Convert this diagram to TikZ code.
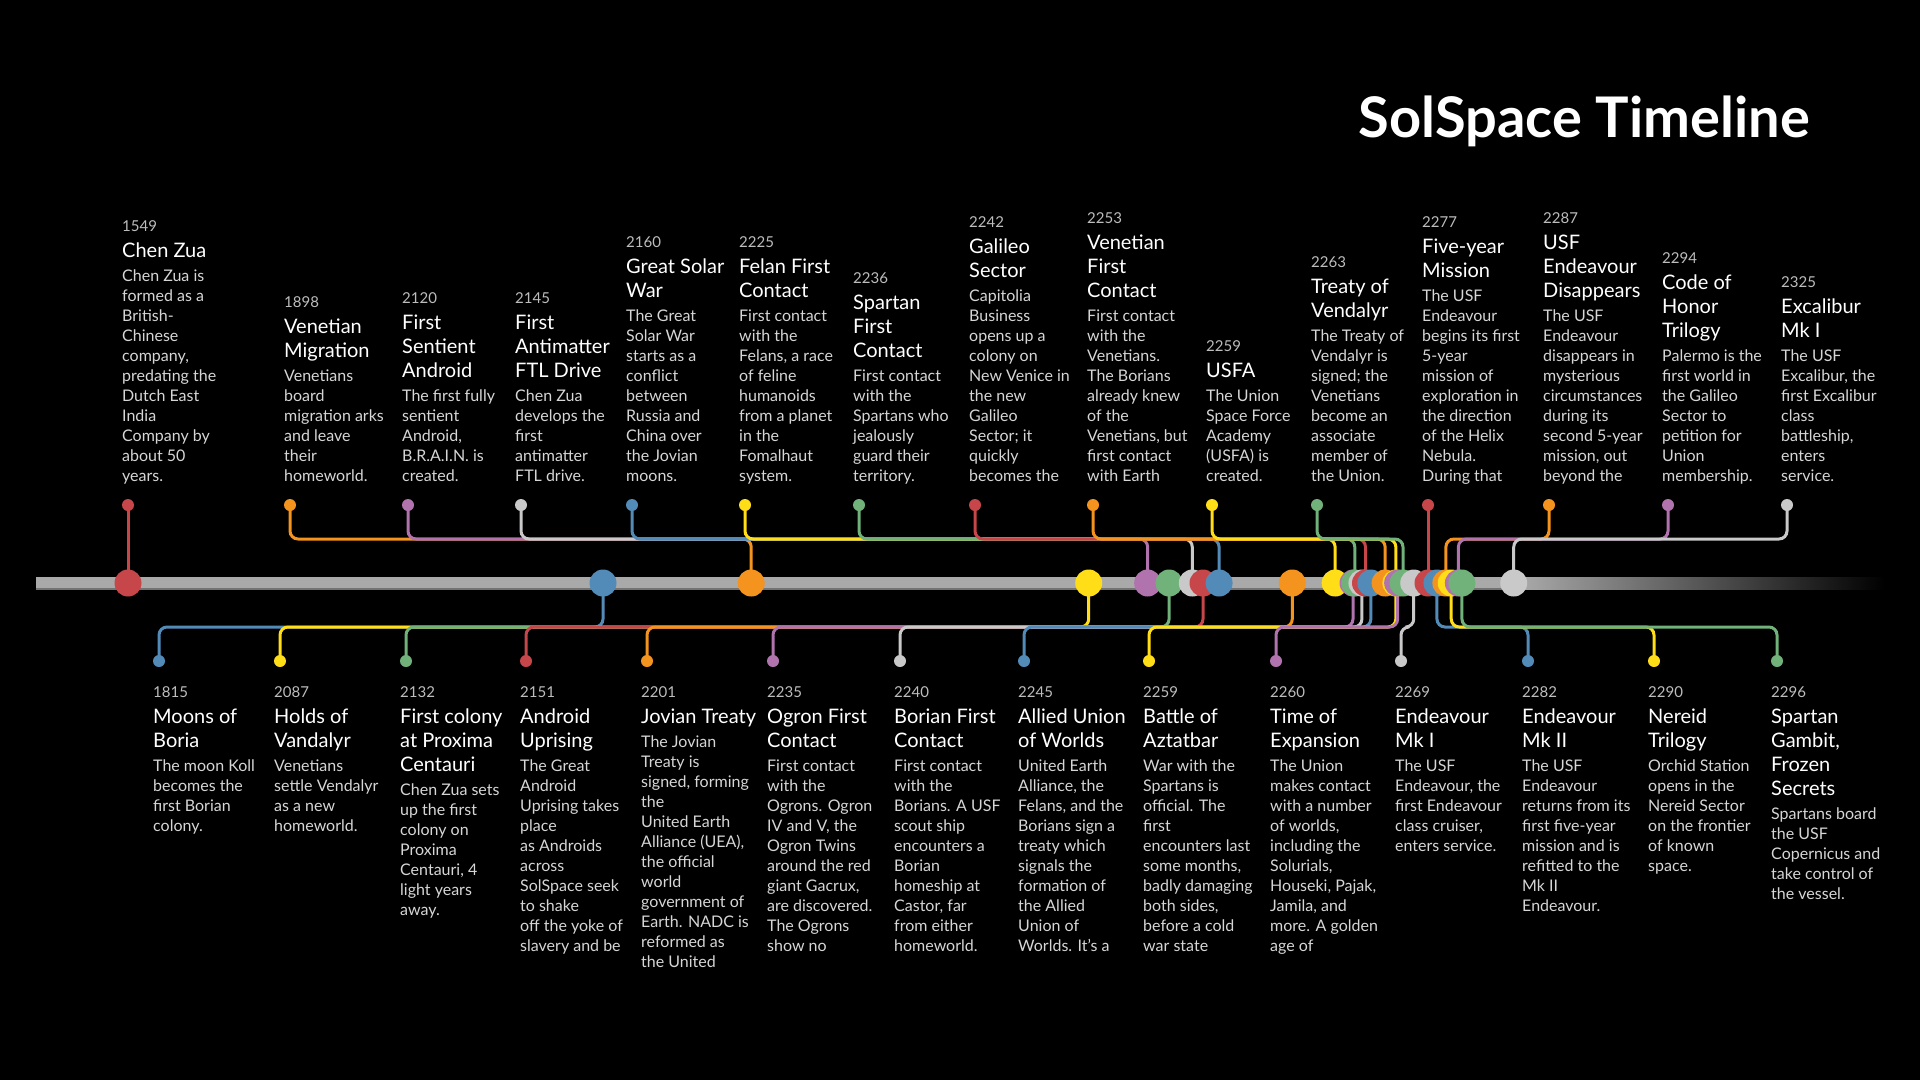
\documentclass[tikz,border=0pt]{standalone}
\usepackage{fontspec}
\setmainfont{Lato}
\pgfdeclarelayer{back}
\pgfdeclarelayer{lines}
\pgfsetlayers{back,lines,main}
\definecolor{cR}{HTML}{C6464A}
\definecolor{cO}{HTML}{F4941F}
\definecolor{cP}{HTML}{B173AE}
\definecolor{cW}{HTML}{C9C9C9}
\definecolor{cB}{HTML}{538BB8}
\definecolor{cY}{HTML}{FFDD17}
\definecolor{cN}{HTML}{70B27A}
\definecolor{axisc}{HTML}{A9A9A9}
\definecolor{yearc}{HTML}{BDBDBD}
\definecolor{bodyc}{HTML}{D6D6D6}
\tikzset{
  bigdot/.style={circle, inner sep=0pt, minimum size=27pt},
  smalldot/.style={circle, inner sep=0pt, minimum size=12pt},
  conn/.style={line width=3pt, rounded corners=8pt},
  evtxt/.style={anchor=base west, inner sep=0pt, text=white},
}
\newcommand\evtext[3]{%
  {\fontsize{15}{18}\selectfont\leavevmode{\color{yearc}#1}\par}%
  \vspace{2pt}%
  {\fontsize{20}{24}\selectfont\color{white}#2\par}%
  \vspace{4pt}%
  {\fontsize{16}{20}\selectfont\color{bodyc}#3\par}}
\newcommand\yeardot[2]{\node[bigdot, fill=#2] (b#1) at ({128+(#1-1549)*1.785714},583) {};}
\newcommand\topev[5]{%
  \node[smalldot, fill=#3] (t#1) at (#2,505) {};
  \node[evtxt] (tt#1) at (#2-6,481) {\parbox[b]{160pt}{\raggedright\evtext{#1}{#4}{#5}}};
  \begin{pgfonlayer}{lines}\draw[conn, draw=#3] (t#1.center) -- (t#1 |- tl) -| (b#1.center);\end{pgfonlayer}}
\newcommand\topevstraight[5]{%
  \node[smalldot, fill=#3] (t#1) at (b#1 |- 0,505) {};
  \node[evtxt] (tt#1) at (#2-6,481) {\parbox[b]{160pt}{\raggedright\evtext{#1}{#4}{#5}}};
  \begin{pgfonlayer}{lines}\draw[line width=3pt, draw=#3] (t#1.center) -- (b#1.center);\end{pgfonlayer}}
\newcommand\botev[5]{%
  \node[smalldot, fill=#3] (d#1) at (#2,661) {};
  \node[evtxt] (dd#1) at (#2-6,697) {\parbox[t]{160pt}{\raggedright\evtext{#1}{#4}{#5}}};
  \begin{pgfonlayer}{lines}\draw[conn, draw=#3] (d#1.center) -- (d#1 |- bl) -| (b#1.center);\end{pgfonlayer}}
\begin{document}
\begin{tikzpicture}[x=1pt, y=-1pt]
\begin{pgfonlayer}{back}
  \fill[black] (0,0) rectangle (1920,1080);
  \fill[axisc] (36,577) rectangle (1522,589);
  \fill[black!55] (36,588) rectangle (1522,589.5);
  \shade[left color=axisc, right color=black] (1520,577) rectangle (1885,589.5);
\end{pgfonlayer}
\useasboundingbox (0,0) rectangle (1920,1080);
\coordinate (tl) at (0,539);
\coordinate (bl) at (0,627);
\node[anchor=base east, inner sep=0pt, text=white] (title) at (1810,137) {\fontsize{56}{60}\selectfont\bfseries SolSpace Timeline};
% year dots on the axis
\yeardot{1549}{cR}
\yeardot{1815}{cB}
\yeardot{1898}{cO}
\yeardot{2087}{cY}
\yeardot{2120}{cP}
\yeardot{2132}{cN}
\yeardot{2145}{cW}
\yeardot{2151}{cR}
\yeardot{2160}{cB}
\yeardot{2201}{cO}
\yeardot{2225}{cY}
\yeardot{2235}{cP}
\yeardot{2236}{cN}
\yeardot{2240}{cW}
\yeardot{2242}{cR}
\yeardot{2245}{cB}
\yeardot{2253}{cO}
\yeardot{2259}{cY}
\yeardot{2260}{cP}
\yeardot{2263}{cN}
\yeardot{2269}{cW}
\yeardot{2277}{cR}
\yeardot{2282}{cB}
\yeardot{2287}{cO}
\yeardot{2290}{cY}
\yeardot{2294}{cP}
\yeardot{2296}{cN}
\yeardot{2325}{cW}
% events above
\topevstraight{1549}{128}{cR}{Chen Zua}{Chen Zua is\\formed as a\\British-\\Chinese\\company,\\predating the\\Dutch East\\India\\Company by\\about 50\\years.}
\topev{1898}{290}{cO}{Venetian\\Migration}{Venetians\\board\\migration arks\\and leave\\their\\homeworld.}
\topev{2120}{408}{cP}{First\\Sentient\\Android}{The first fully\\sentient\\Android,\\B.R.A.I.N. is\\created.}
\topev{2145}{521}{cW}{First\\Antimatter\\FTL Drive}{Chen Zua\\develops the\\first\\antimatter\\FTL drive.}
\topev{2160}{632}{cB}{Great Solar\\War}{The Great\\Solar War\\starts as a\\conflict\\between\\Russia and\\China over\\the Jovian\\moons.}
\topev{2225}{745}{cY}{Felan First\\Contact}{First contact\\with the\\Felans, a race\\of feline\\humanoids\\from a planet\\in the\\Fomalhaut\\system.}
\topev{2236}{859}{cN}{Spartan\\First\\Contact}{First contact\\with the\\Spartans who\\jealously\\guard their\\territory.}
\topev{2242}{975}{cR}{Galileo\\Sector}{Capitolia\\Business\\opens up a\\colony on\\New Venice in\\the new\\Galileo\\Sector; it\\quickly\\becomes the}
\topev{2253}{1093}{cO}{Venetian\\First\\Contact}{First contact\\with the\\Venetians.\\The Borians\\already knew\\of the\\Venetians, but\\first contact\\with Earth}
\topev{2259}{1212}{cY}{USFA}{The Union\\Space Force\\Academy\\(USFA) is\\created.}
\topev{2263}{1317}{cN}{Treaty of\\Vendalyr}{The Treaty of\\Vendalyr is\\signed; the\\Venetians\\become an\\associate\\member of\\the Union.}
\topevstraight{2277}{1428}{cR}{Five-year\\Mission}{The USF\\Endeavour\\begins its first\\5-year\\mission of\\exploration in\\the direction\\of the Helix\\Nebula.\\During that}
\topev{2287}{1549}{cO}{USF\\Endeavour\\Disappears}{The USF\\Endeavour\\disappears in\\mysterious\\circumstances\\during its\\second 5-year\\mission, out\\beyond the}
\topev{2294}{1668}{cP}{Code of\\Honor\\Trilogy}{Palermo is the\\first world in\\the Galileo\\Sector to\\petition for\\Union\\membership.}
\topev{2325}{1787}{cW}{Excalibur\\Mk I}{The USF\\Excalibur, the\\first Excalibur\\class\\battleship,\\enters\\service.}
% events below
\botev{1815}{159}{cB}{Moons of\\Boria}{The moon Koll\\becomes the\\first Borian\\colony.}
\botev{2087}{280}{cY}{Holds of\\Vandalyr}{Venetians\\settle Vendalyr\\as a new\\homeworld.}
\botev{2132}{406}{cN}{First colony\\at Proxima\\Centauri}{Chen Zua sets\\up the first\\colony on\\Proxima\\Centauri, 4\\light years\\away.}
\botev{2151}{526}{cR}{Android\\Uprising}{The Great\\Android\\Uprising takes\\place\\as Androids\\across\\SolSpace seek\\to shake\\off the yoke of\\slavery and be}
\botev{2201}{647}{cO}{Jovian Treaty}{The Jovian\\Treaty is\\signed, forming\\the\\United Earth\\Alliance (UEA),\\the official\\world\\government of\\Earth. NADC is\\reformed as\\the United}
\botev{2235}{773}{cP}{Ogron First\\Contact}{First contact\\with the\\Ogrons. Ogron\\IV and V, the\\Ogron Twins\\around the red\\giant Gacrux,\\are discovered.\\The Ogrons\\show no}
\botev{2240}{900}{cW}{Borian First\\Contact}{First contact\\with the\\Borians. A USF\\scout ship\\encounters a\\Borian\\homeship at\\Castor, far\\from either\\homeworld.}
\botev{2245}{1024}{cB}{Allied Union\\of Worlds}{United Earth\\Alliance, the\\Felans, and the\\Borians sign a\\treaty which\\signals the\\formation of\\the Allied\\Union of\\Worlds. It's a}
\botev{2259}{1149}{cY}{Battle of\\Aztatbar}{War with the\\Spartans is\\official. The\\first\\encounters last\\some months,\\badly damaging\\both sides,\\before a cold\\war state}
\botev{2260}{1276}{cP}{Time of\\Expansion}{The Union\\makes contact\\with a number\\of worlds,\\including the\\Solurials,\\Houseki, Pajak,\\Jamila, and\\more. A golden\\age of}
\botev{2269}{1401}{cW}{Endeavour\\Mk I}{The USF\\Endeavour, the\\first Endeavour\\class cruiser,\\enters service.}
\botev{2282}{1528}{cB}{Endeavour\\Mk II}{The USF\\Endeavour\\returns from its\\first five-year\\mission and is\\refitted to the\\Mk II\\Endeavour.}
\botev{2290}{1654}{cY}{Nereid\\Trilogy}{Orchid Station\\opens in the\\Nereid Sector\\on the frontier\\of known\\space.}
\botev{2296}{1777}{cN}{Spartan\\Gambit,\\Frozen\\Secrets}{Spartans board\\the USF\\Copernicus and\\take control of\\the vessel.}
\end{tikzpicture}
\end{document}
